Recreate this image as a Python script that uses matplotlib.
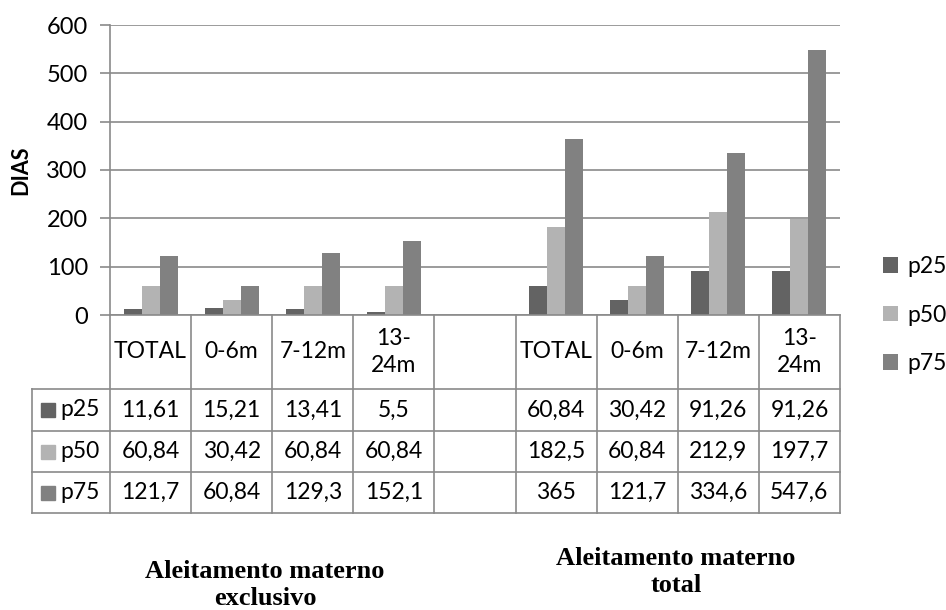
import matplotlib.pyplot as plt
from matplotlib.patches import Rectangle
import numpy as np

plt.rcParams['font.family'] = ['Lato', 'DejaVu Sans']

categorias = ['TOTAL', '0-6m', '7-12m', '13-\n24m', '',
              'TOTAL', '0-6m', '7-12m', '13-\n24m']
series = ['p25', 'p50', 'p75']
p25 = [11.61, 15.21, 13.41, 5.5, np.nan, 60.84, 30.42, 91.26, 91.26]
p50 = [60.84, 30.42, 60.84, 60.84, np.nan, 182.5, 60.84, 212.9, 197.7]
p75 = [121.7, 60.84, 129.3, 152.1, np.nan, 365, 121.7, 334.6, 547.6]
grupos = ['Aleitamento materno\nexclusivo', 'Aleitamento materno\ntotal']

cores = ['#636363', '#b3b3b3', '#818181']
cinza = '#8a8a8a'
W, H = 946, 610
fs = 16.5

fig = plt.figure(figsize=(W / 100, H / 100), dpi=100)

# area do grafico em pixels
x0, x1 = 110, 840
y_top, y_zero, y_tab = 25, 315, 513
ax = fig.add_axes([x0 / W, 1 - y_zero / H, (x1 - x0) / W, (y_zero - y_top) / H])

n = len(categorias)
x = np.arange(n)
larg = 0.222
for i, (nome, vals) in enumerate(zip(series, [p25, p50, p75])):
    ax.bar(x + (i - 1) * larg, vals, larg, color=cores[i], label=nome, zorder=3)

ax.set_xlim(-0.5, n - 0.5)
ax.set_ylim(0, 600)
ax.set_yticks(range(0, 601, 100))
ax.yaxis.grid(True, color=cinza, linewidth=1.2, zorder=0)
ax.set_xticks([])
for lado in ['top', 'right', 'bottom']:
    ax.spines[lado].set_visible(False)
ax.spines['left'].set_color(cinza)
ax.spines['left'].set_linewidth(1.2)
ax.tick_params(axis='y', length=7, width=1.2, color=cinza, labelsize=17, pad=9)
ax.set_ylabel('DIAS', fontsize=15.5, fontweight='bold', labelpad=11)

# tabela de dados abaixo do grafico
px_unid = (x1 - x0) / n
esq = 32
tx = fig.add_axes([esq / W, 1 - y_tab / H, (x1 - esq) / W, (y_tab - y_zero) / H])
xe = -0.5 - (x0 - esq) / px_unid
tx.set_xlim(xe, n - 0.5)
tx.set_ylim(y_tab - y_zero, 0)
tx.axis('off')

linhas = [0, 74, 116, 157, 198]
kw = dict(color=cinza, linewidth=1.2, clip_on=False)
tx.plot([-0.5, n - 0.5], [0, 0], **kw)
for yy in linhas[1:]:
    tx.plot([xe, n - 0.5], [yy, yy], **kw)
for k in range(n + 1):
    tx.plot([k - 0.5, k - 0.5], [0, linhas[-1]], **kw)
tx.plot([xe, xe], [linhas[1], linhas[-1]], **kw)

for k, cat in enumerate(categorias):
    tx.text(k, linhas[1] / 2, cat, ha='center', va='center', fontsize=fs,
            linespacing=1.3)

for r, (nome, vals) in enumerate(zip(series, [p25, p50, p75])):
    yc = (linhas[r + 1] + linhas[r + 2]) / 2
    tx.add_patch(Rectangle((xe + 9 / px_unid, yc - 7), 14 / px_unid, 14,
                           color=cores[r], clip_on=False))
    tx.text(xe + 28 / px_unid, yc, nome, ha='left', va='center', fontsize=fs)
    for k, v in enumerate(vals):
        if np.isnan(v):
            continue
        tx.text(k, yc, f'{v:g}'.replace('.', ','), ha='center', va='center',
                fontsize=fs)

# legenda a direita
ax.legend(loc='center left', bbox_to_anchor=((883 - x0) / (x1 - x0), 0.0),
          frameon=False, fontsize=fs, handlelength=0.65, handleheight=0.65,
          handletextpad=0.4, labelspacing=1.2, borderaxespad=0, borderpad=0)

# nomes dos grupos
fig.text(265 / W, 1 - 585 / H, grupos[0], ha='center', va='center',
         family='Liberation Serif', fontweight='bold', fontsize=19,
         linespacing=1.25)
fig.text(676 / W, 1 - 572 / H, grupos[1], ha='center', va='center',
         family='Liberation Serif', fontweight='bold', fontsize=19,
         linespacing=1.25)

fig.savefig('out.png', dpi=100)
